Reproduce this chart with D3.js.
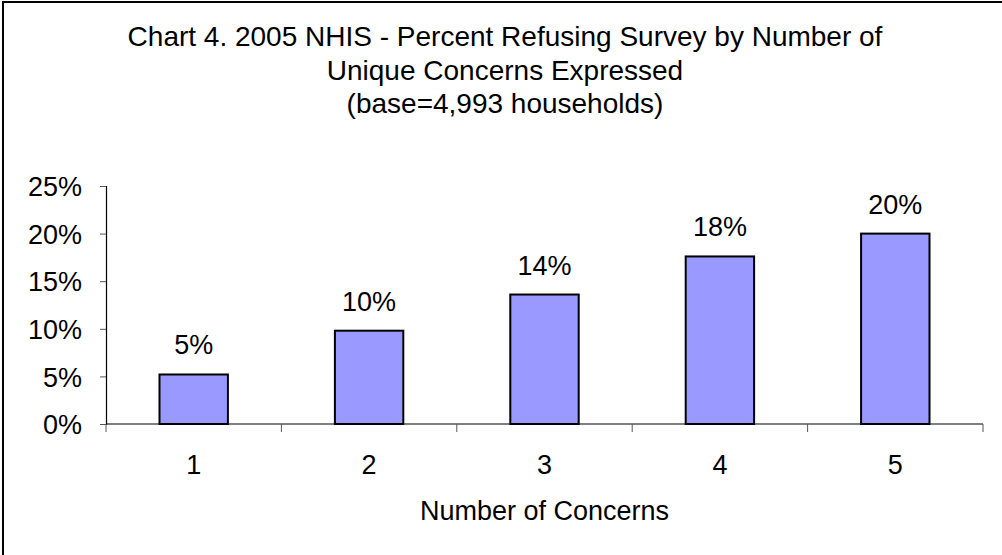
<!DOCTYPE html>
<html>
<head>
<meta charset="utf-8">
<script src="https://cdn.jsdelivr.net/npm/d3@7"></script>
<style>
  body { margin: 0; background: #fff; }
  text { font-family: "Liberation Sans", Arial, sans-serif; fill: #000; }
</style>
</head>
<body>
<script>
// data
var categories = ["1", "2", "3", "4", "5"];
var values = [5.2, 9.8, 13.6, 17.6, 20.0];
var yTicks = [0, 5, 10, 15, 20, 25];
var titleLines = [
    "Chart 4. 2005 NHIS - Percent Refusing Survey by Number of",
    "Unique Concerns Expressed",
    "(base=4,993 households)"
];
var xTitle = "Number of Concerns";

var width = 1002, height = 555;
var plotLeft = 106, plotRight = 983, plotTop = 186, plotBottom = 424;

var svg = d3.select("body")
  .append("svg")
  .attr("width", width)
  .attr("height", height);

// outer frame
svg.append("rect")
  .attr("x", 3)
  .attr("y", 2)
  .attr("width", width + 10)
  .attr("height", height + 10)
  .attr("fill", "none")
  .attr("stroke", "#000")
  .attr("stroke-width", 2);

var title = svg.append("g");
titleLines.forEach(function(t, i) {
    title.append("text")
      .attr("x", 505)
      .attr("y", 46 + i * 33.5)
      .attr("text-anchor", "middle")
      .style("font-size", "28px")
      .text(t);
});

var x = d3.scaleBand()
  .domain(categories)
  .range([plotLeft, plotRight])
  .paddingInner(0.61)
  .paddingOuter(0.305);

var y = d3.scaleLinear()
  .domain([0, 25])
  .range([plotBottom, plotTop]);

// y axis
var yAxis = svg.append("g")
  .attr("transform", "translate(" + plotLeft + ",0)")
  .call(d3.axisLeft(y).tickValues(yTicks).tickSize(6).tickFormat(function(d){ return d + "%"; }));
yAxis.select(".domain").attr("stroke", "#000").attr("stroke-width", 1.2);
yAxis.selectAll(".tick line").attr("stroke", "#555");
yAxis.selectAll(".tick text")
  .attr("x", -24)
  .attr("dy", "0.36em")
  .style("font-size", "27px")
  .style("font-family", "Liberation Sans, Arial, sans-serif");

// x axis: ticks between categories
var xAxisG = svg.append("g")
  .attr("transform", "translate(0," + plotBottom + ")");
xAxisG.append("line")
  .attr("x1", plotLeft).attr("x2", plotRight)
  .attr("stroke", "#000").attr("stroke-width", 1.2);
var bounds = categories.map(function(c){ return x(c) - x.step() * x.paddingInner() / 2; });
bounds.push(plotRight);
xAxisG.selectAll("line.tk")
  .data(bounds)
  .enter().append("line")
  .attr("class", "tk")
  .attr("x1", function(d){ return d; })
  .attr("x2", function(d){ return d; })
  .attr("y1", 0)
  .attr("y2", 8)
  .attr("stroke", "#555");
xAxisG.selectAll("text")
  .data(categories)
  .enter().append("text")
  .attr("x", function(d){ return x(d) + x.bandwidth() / 2; })
  .attr("y", 50)
  .attr("text-anchor", "middle")
  .style("font-size", "27px")
  .text(function(d){ return d; });

svg.append("text")
  .attr("x", (plotLeft + plotRight) / 2)
  .attr("y", 520)
  .attr("text-anchor", "middle")
  .style("font-size", "27px")
  .text(xTitle);

// bars
var fmt = d3.format(".0f");
svg.selectAll("rect.bar")
  .data(values)
  .enter().append("rect")
  .attr("class", "bar")
  .attr("x", function(d, i){ return x(categories[i]); })
  .attr("y", function(d){ return y(d); })
  .attr("width", x.bandwidth())
  .attr("height", function(d){ return plotBottom - y(d); })
  .attr("fill", "#9999FF")
  .attr("stroke", "#000")
  .attr("stroke-width", 2);

svg.selectAll("text.lbl")
  .data(values)
  .enter().append("text")
  .attr("class", "lbl")
  .attr("x", function(d, i){ return x(categories[i]) + x.bandwidth() / 2; })
  .attr("y", function(d){ return y(d) - 20; })
  .attr("text-anchor", "middle")
  .style("font-size", "27px")
  .text(function(d){ return fmt(d) + "%"; });
</script>
</body>
</html>
